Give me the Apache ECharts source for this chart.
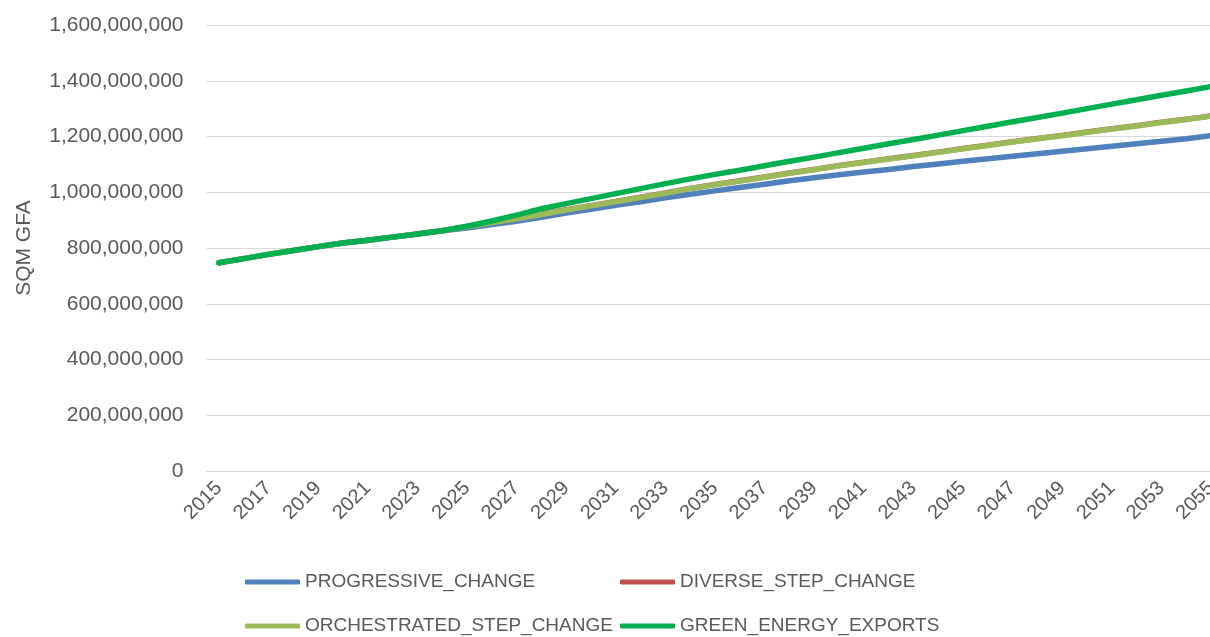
<!DOCTYPE html>
<html>
<head>
<meta charset="utf-8">
<script src="https://cdn.jsdelivr.net/npm/echarts@6/dist/echarts.min.js"></script>
<style>
  html, body { margin: 0; padding: 0; background: #ffffff; }
  #chart { width: 1210px; height: 637px; }
</style>
</head>
<body>
<div id="chart"></div>
<script>
// Floor area projections (square metres of gross floor area), one value per year
const years = [];
for (let y = 2015; y <= 2055; y++) years.push(String(y));

const progressiveChange = [
  747, 762, 777, 791, 805, 818, 828, 839, 850, 862,
  872, 884, 896, 910, 925, 939, 953, 966, 980, 993,
  1005, 1017, 1029, 1041, 1052, 1063, 1073, 1082, 1092, 1101,
  1111, 1120, 1129, 1138, 1147, 1156, 1165, 1174, 1183, 1192,
  1203
];
const diverseStepChange = [
  747, 762, 777, 791, 805, 818, 828, 839, 850, 862,
  877, 892, 906, 921, 937, 952, 967, 982, 997, 1014,
  1028, 1041, 1055, 1069, 1082, 1096, 1108, 1120, 1132, 1144,
  1157, 1169, 1181, 1193, 1204, 1216, 1228, 1239, 1251, 1262,
  1274
];
const orchestratedStepChange = [
  747, 762, 777, 791, 805, 818, 828, 839, 850, 862,
  876, 891, 905, 920, 936, 951, 966, 981, 996, 1013,
  1027, 1040, 1054, 1068, 1081, 1095, 1107, 1119, 1131, 1143,
  1156, 1168, 1180, 1192, 1203, 1215, 1227, 1238, 1250, 1261,
  1273
];
const greenEnergyExports = [
  747, 762, 777, 791, 805, 818, 828, 839, 850, 862,
  878, 897, 918, 941, 959, 977, 995, 1013, 1031, 1048,
  1064, 1079, 1095, 1111, 1126, 1142, 1158, 1174, 1189, 1205,
  1221, 1237, 1253, 1268, 1284, 1300, 1316, 1332, 1348, 1363,
  1379
];

const seriesNames = [
  'PROGRESSIVE_CHANGE',
  'DIVERSE_STEP_CHANGE',
  'ORCHESTRATED_STEP_CHANGE',
  'GREEN_ENERGY_EXPORTS'
];
const seriesColors = ['#4f81bd', '#c0504d', '#9bbb59', '#00b050'];
const seriesValues = [progressiveChange, diverseStepChange, orchestratedStepChange, greenEnergyExports];

const MILLION = 1e6;
const textColor = '#595959';
const fontFamily = "'Liberation Sans', Arial, sans-serif";

const chart = echarts.init(document.getElementById('chart'), null, { renderer: 'canvas' });

// Legend laid out as a 2x2 table: one single-entry legend per cell
const legendCells = [
  { name: seriesNames[0], left: 245, top: 571 },
  { name: seriesNames[1], left: 620, top: 571 },
  { name: seriesNames[2], left: 245, top: 615 },
  { name: seriesNames[3], left: 620, top: 615 }
];

chart.setOption({
  animation: false,
  backgroundColor: '#ffffff',
  grid: {
    left: 206.5,
    top: 25,
    width: 1017,
    height: 446,
    containLabel: false,
    outerBoundsMode: 'none'
  },
  legend: legendCells.map(c => ({
    left: c.left,
    top: c.top,
    padding: 0,
    itemWidth: 55,
    itemHeight: 5,
    icon: 'roundRect',
    data: [c.name],
    selectedMode: false,
    textStyle: { color: textColor, fontSize: 19, fontFamily: fontFamily, lineHeight: 22 }
  })),
  xAxis: {
    type: 'category',
    data: years,
    boundaryGap: true,
    axisLine: { show: true, lineStyle: { color: '#d9d9d9', width: 1 } },
    axisTick: { show: false },
    axisLabel: {
      interval: 1,
      rotate: 45,
      margin: 14,
      color: textColor,
      fontSize: 20,
      fontFamily: fontFamily
    },
    splitLine: { show: false }
  },
  yAxis: {
    type: 'value',
    min: 0,
    max: 1600 * MILLION,
    interval: 200 * MILLION,
    name: 'SQM GFA',
    nameLocation: 'middle',
    nameGap: 172,
    nameTextStyle: { color: textColor, fontSize: 21, fontFamily: fontFamily },
    axisLine: { show: false },
    axisTick: { show: false },
    axisLabel: {
      margin: 23,
      color: textColor,
      fontSize: 21,
      fontFamily: fontFamily,
      formatter: v => Math.round(v).toLocaleString('en-US')
    },
    splitLine: { lineStyle: { color: '#d9d9d9', width: 1 } }
  },
  series: seriesNames.map((name, i) => ({
    name: name,
    type: 'line',
    data: seriesValues[i].map(v => v * MILLION),
    showSymbol: false,
    symbol: 'none',
    smooth: false,
    color: seriesColors[i],
    lineStyle: { color: seriesColors[i], width: 5.5, cap: 'round', join: 'round' },
    itemStyle: { color: seriesColors[i] },
    z: 2 + i
  }))
});
</script>
</body>
</html>
